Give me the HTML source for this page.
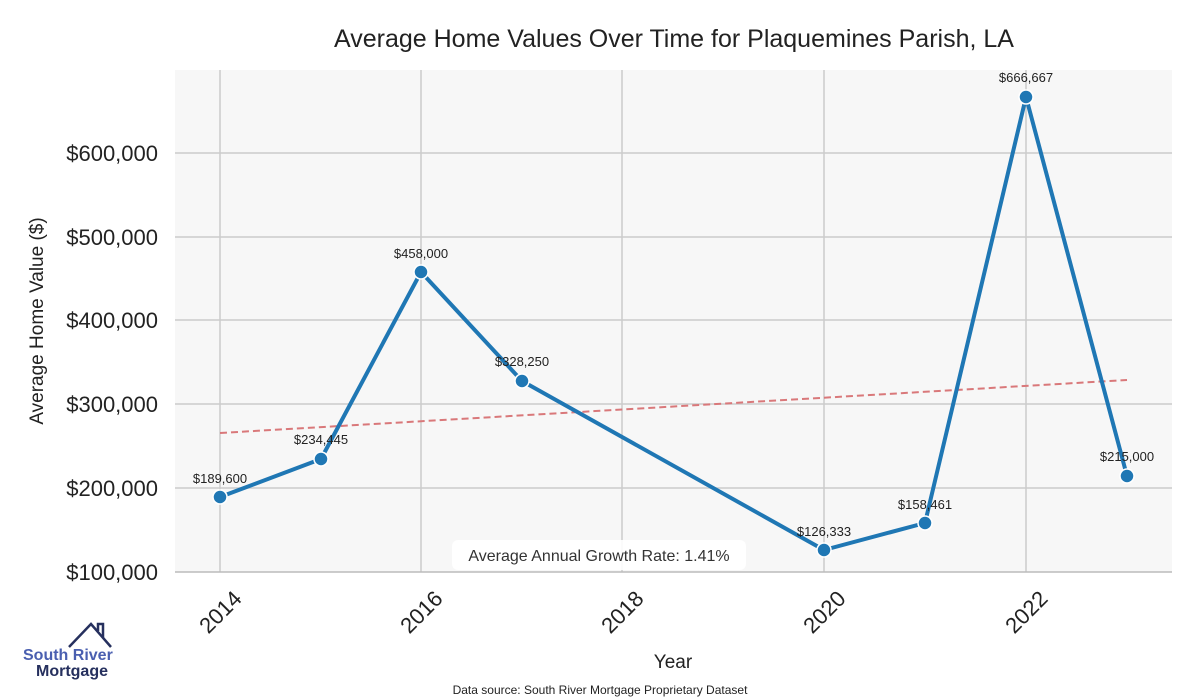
<!DOCTYPE html>
<html><head><meta charset="utf-8"><style>body{margin:0;background:#fff}svg{display:block}</style></head><body>
<svg width="1200" height="700" viewBox="0 0 1200 700" xmlns="http://www.w3.org/2000/svg" font-family="Liberation Sans, sans-serif">
<rect x="175" y="70" width="997" height="502" fill="#f7f7f7"/>
<g stroke="#cccccc" stroke-width="1.5">
<line x1="220" y1="70" x2="220" y2="572"/><line x1="421" y1="70" x2="421" y2="572"/><line x1="622" y1="70" x2="622" y2="572"/><line x1="824" y1="70" x2="824" y2="572"/><line x1="1026" y1="70" x2="1026" y2="572"/>
<line x1="175" y1="153" x2="1172" y2="153"/><line x1="175" y1="237" x2="1172" y2="237"/><line x1="175" y1="320" x2="1172" y2="320"/><line x1="175" y1="404" x2="1172" y2="404"/><line x1="175" y1="488" x2="1172" y2="488"/>
</g>
<line x1="175" y1="572" x2="1172" y2="572" stroke="#bbb" stroke-width="1.5"/>
<text x="674" y="47" text-anchor="middle" font-size="25" fill="#222">Average Home Values Over Time for Plaquemines Parish, LA</text>
<g font-size="22" fill="#222" text-anchor="end">
<text x="158" y="161">$600,000</text><text x="158" y="245">$500,000</text><text x="158" y="328">$400,000</text><text x="158" y="412">$300,000</text><text x="158" y="496">$200,000</text><text x="158" y="580">$100,000</text>
</g>
<g font-size="22" fill="#222" text-anchor="end">
<text transform="translate(243,600) rotate(-45)">2014</text><text transform="translate(444,600) rotate(-45)">2016</text><text transform="translate(645,600) rotate(-45)">2018</text><text transform="translate(847,600) rotate(-45)">2020</text><text transform="translate(1049,600) rotate(-45)">2022</text>
</g>
<text x="673" y="668" text-anchor="middle" font-size="19" fill="#222">Year</text>
<text transform="translate(43,321) rotate(-90)" text-anchor="middle" font-size="19" fill="#222">Average Home Value ($)</text>
<line x1="220" y1="433" x2="1127" y2="380" stroke="#d9787a" stroke-width="2" stroke-dasharray="7,4"/>
<polyline points="220,497 321,459 421,272 522,381 824,550 925,523 1026,97 1127,476" fill="none" stroke="#1f77b4" stroke-width="4" stroke-linejoin="round"/>
<g fill="#1f77b4" stroke="#fff" stroke-width="1.5">
<circle cx="220" cy="497" r="7"/><circle cx="321" cy="459" r="7"/><circle cx="421" cy="272" r="7"/><circle cx="522" cy="381" r="7"/><circle cx="824" cy="550" r="7"/><circle cx="925" cy="523" r="7"/><circle cx="1026" cy="97" r="7"/><circle cx="1127" cy="476" r="7"/>
</g>
<g font-size="13" fill="#222" text-anchor="middle">
<text x="220" y="483">$189,600</text><text x="321" y="444">$234,445</text><text x="421" y="258">$458,000</text><text x="522" y="366">$328,250</text><text x="824" y="536">$126,333</text><text x="925" y="509">$158,461</text><text x="1026" y="82">$666,667</text><text x="1127" y="461">$215,000</text>
</g>
<rect x="452" y="540" width="294" height="30" rx="6" fill="#fff" opacity="0.9"/>
<text x="599" y="561" text-anchor="middle" font-size="16" fill="#333">Average Annual Growth Rate: 1.41%</text>
<text x="600" y="694" text-anchor="middle" font-size="12" fill="#222">Data source: South River Mortgage Proprietary Dataset</text>
<polyline points="69,647 91,624 111,647" fill="none" stroke="#26305e" stroke-width="2.5"/>
<polyline points="98,631 98,624 103,624 103,638" fill="none" stroke="#26305e" stroke-width="2.5"/>
<text x="23" y="660" font-size="16" font-weight="bold" fill="#4a5fb0">South River</text>
<text x="36" y="676" font-size="16" font-weight="bold" fill="#26305e">Mortgage</text>
</svg>
</body></html>
